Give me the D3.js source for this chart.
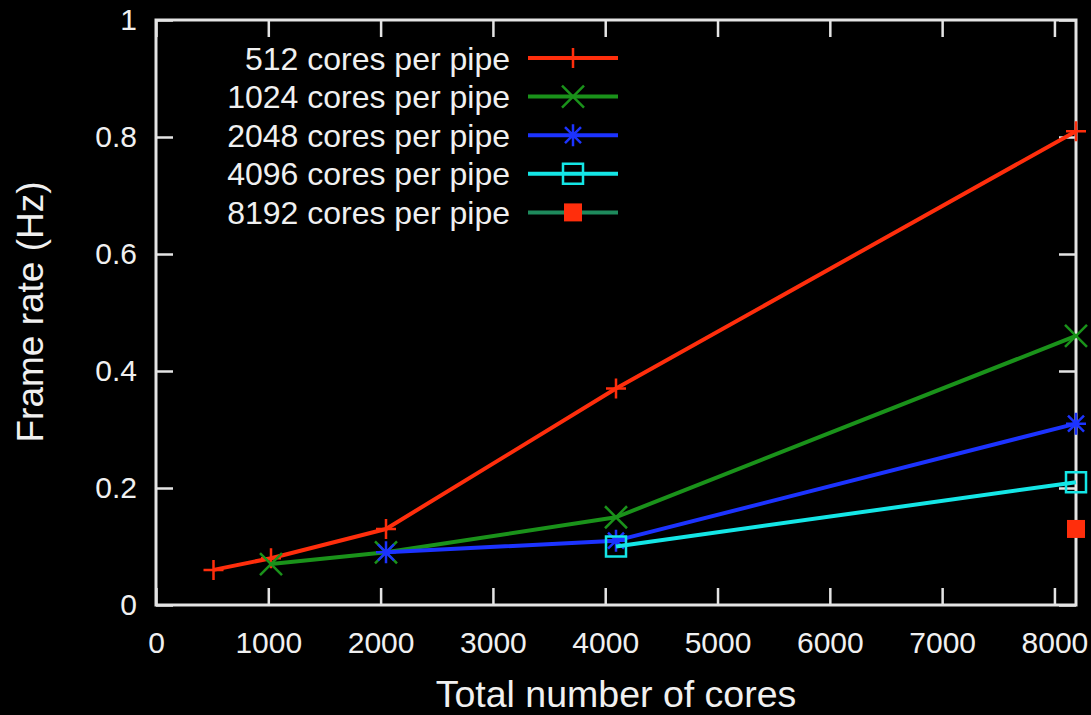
<!DOCTYPE html>
<html>
<head>
<meta charset="utf-8">
<title>Frame rate vs cores</title>
<style type="text/css">
body { margin: 0; background: #000; }
text { font-family: 'Liberation Sans', Arial, Helvetica, sans-serif; fill: #f0f0f0; }
</style>
</head>
<body>
<script src="https://d3js.org/d3.v7.min.js"></script>
<script type="text/javascript">

// values
const seriesNames = ["512 cores per pipe", "1024 cores per pipe", "2048 cores per pipe",
                     "4096 cores per pipe", "8192 cores per pipe"];
const cores512 = [512, 1024, 2048, 4096, 8192];
const rate512  = [0.06, 0.08, 0.13, 0.37, 0.81];
const cores1024 = [1024, 2048, 4096, 8192];
const rate1024  = [0.07, 0.09, 0.15, 0.46];
const cores2048 = [2048, 4096, 8192];
const rate2048  = [0.09, 0.11, 0.31];
const cores4096 = [4096, 8192];
const rate4096  = [0.10, 0.21];
const cores8192 = [8192];
const rate8192  = [0.13];

const xTicks = [0, 1000, 2000, 3000, 4000, 5000, 6000, 7000, 8000];
const yTicks = [0, 0.2, 0.4, 0.6, 0.8, 1];

const width = 1091, height = 715;
const plotLeft = 156, plotRight = 1076, plotTop = 20, plotBottom = 605;

const svg = d3.select("body").append("svg")
    .attr("width", width)
    .attr("height", height);

var x = d3.scaleLinear().domain([0, 8192]).range([plotLeft, plotRight]);
var y = d3.scaleLinear().domain([0, 1]).range([plotBottom, plotTop]);

// axes, ticks point inwards like gnuplot
var axisColor = "#e4e4e4";

var xAxis = svg.append("g")
    .attr("transform", "translate(0," + plotBottom + ")")
    .call(d3.axisBottom(x).tickValues(xTicks).tickSize(-17).tickSizeOuter(0).tickPadding(0)
      .tickFormat(d3.format("d")));
xAxis.selectAll("text")
    .attr("y", 48)
    .attr("dy", null)
    .style("font-size", "30px");

var yAxis = svg.append("g")
    .attr("transform", "translate(" + plotLeft + ",0)")
    .call(d3.axisLeft(y).tickValues(yTicks).tickSize(-17).tickSizeOuter(0).tickPadding(19)
      .tickFormat(function(d) { return (d === 0 || d === 1) ? d : d.toFixed(1); }));
yAxis.selectAll("text")
    .style("font-size", "30px");

// mirrored ticks
svg.append("g")
    .attr("transform", "translate(0," + plotTop + ")")
    .call(d3.axisTop(x).tickValues(xTicks).tickSize(-17).tickSizeOuter(0).tickFormat(""));
svg.append("g")
    .attr("transform", "translate(" + plotRight + ",0)")
    .call(d3.axisRight(y).tickValues(yTicks).tickSize(-17).tickSizeOuter(0).tickFormat(""));

svg.selectAll(".domain").remove();
svg.selectAll(".tick line")
    .attr("stroke", axisColor)
    .attr("stroke-width", 2.5);
svg.selectAll(".tick text")
    .attr("fill", "#f0f0f0")
    .style("font-family", "'Liberation Sans', Arial, sans-serif");

svg.append("rect")
    .attr("x", plotLeft)
    .attr("y", plotTop)
    .attr("width", plotRight - plotLeft)
    .attr("height", plotBottom - plotTop)
    .attr("fill", "none")
    .attr("stroke", axisColor)
    .attr("stroke-width", 3);

// axis titles
svg.append("text")
    .attr("x", (plotLeft + plotRight) / 2)
    .attr("y", 707)
    .attr("text-anchor", "middle")
    .style("font-size", "37.5px")
    .text("Total number of cores");

svg.append("text")
    .attr("transform", "translate(43,312) rotate(-90)")
    .attr("text-anchor", "middle")
    .style("font-size", "37px")
    .text("Frame rate (Hz)");

// markers
const markerPaths = {
  plus: "M-10,0H10M0,-10V10",
  cross: "M-11,-11L11,11M-11,11L11,-11",
  star: "M-10,0H10M0,-11V11M-8,-8L8,8M-8,8L8,-8",
  box: "M-10,-10H10V10H-10Z",
  fbox: "M-9,-9H9V9H-9Z"
};

const series = [
  {name: seriesNames[0], xs: cores512,  ys: rate512,  color: "#ff2e0c", lineColor: "#ff2e0c", mark: "plus"},
  {name: seriesNames[1], xs: cores1024, ys: rate1024, color: "#1a921a", lineColor: "#1a921a", mark: "cross"},
  {name: seriesNames[2], xs: cores2048, ys: rate2048, color: "#1c33ff", lineColor: "#1c33ff", mark: "star"},
  {name: seriesNames[3], xs: cores4096, ys: rate4096, color: "#14e6e6", lineColor: "#14e6e6", mark: "box"},
  {name: seriesNames[4], xs: cores8192, ys: rate8192, color: "#ff2e0c", lineColor: "#1e8a5c", mark: "fbox"}
];

var line = d3.line()
    .x(function(d) { return x(d[0]); })
    .y(function(d) { return y(d[1]); });

function drawMark(g, s, px, py) {
  var p = g.append("path")
      .attr("d", markerPaths[s.mark])
      .attr("transform", "translate(" + px + "," + py + ")");
  if (s.mark === "fbox") {
    p.attr("fill", s.color).attr("stroke", "none");
  } else {
    p.attr("fill", "none").attr("stroke", s.color).attr("stroke-width", 2.5);
  }
}

var plot = svg.append("g");
var legend = svg.append("g");

series.forEach(function(s, i) {
  var pts = s.xs.map(function(v, j) { return [v, s.ys[j]]; });
  var g = plot.append("g");
  if (pts.length > 1) {
    g.append("path")
        .datum(pts)
        .attr("d", line)
        .attr("fill", "none")
        .attr("stroke", s.lineColor)
        .attr("stroke-width", 4)
        .attr("stroke-linejoin", "round");
  }
  pts.forEach(function(d) { drawMark(g, s, x(d[0]), y(d[1])); });

  // legend row
  var ly = 58 + i * 38.6;
  legend.append("text")
      .attr("x", 510)
      .attr("y", ly)
      .attr("dy", "0.36em")
      .attr("text-anchor", "end")
      .style("font-size", "32px")
      .text(s.name);
  legend.append("line")
      .attr("x1", 528).attr("x2", 618)
      .attr("y1", ly).attr("y2", ly)
      .attr("stroke", s.lineColor)
      .attr("stroke-width", 4);
  drawMark(legend, s, 573, ly);
});

</script>
</body>
</html>
